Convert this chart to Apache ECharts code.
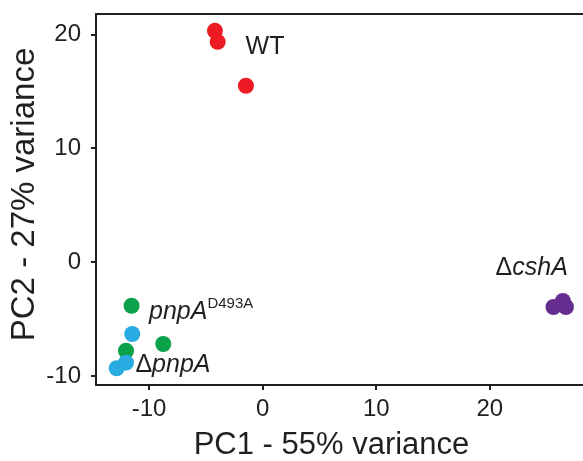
<!DOCTYPE html>
<html><head><meta charset="utf-8">
<script src="https://cdn.jsdelivr.net/npm/echarts@6/dist/echarts.min.js"></script>
<style>html,body{margin:0;padding:0;background:#fff}#c{width:583px;height:461px}</style>
</head><body><div id="c"></div>
<script>
// PCA coordinates [PC1, PC2]
var wtPoints = [[-4.2, 20.3], [-3.96, 19.34], [-1.47, 15.48]];
var pnpD493APoints = [[-11.54, -3.84], [-8.75, -7.2], [-12.03, -7.79]];
var dPnpAPoints = [[-11.48, -6.32], [-12.03, -8.84], [-12.85, -9.33]];
var dCshAPoints = [[25.6, -3.95], [26.7, -3.95], [26.43, -3.42]];
var xTicks = [-10, 0, 10, 20];
var yTicks = [-10, 0, 10, 20];
var xTitle = 'PC1 - 55% variance';
var yTitle = 'PC2 - 27% variance';
// group labels: [x, y, key]
var groupLabels = [[-1.5, 18.83, 'WT'], [-10.0, -4.35, 'pnpD'], [-11.2, -9.09, 'dpnp'], [20.5, -0.53, 'dcsh']];

var FONT = '"Liberation Sans", Arial, sans-serif';
var ink = '#231f20';
var chart = echarts.init(document.getElementById('c'), null, {renderer: 'canvas'});
function sc(name, data, color) {
  return {type: 'scatter', name: name, data: data, symbolSize: 16,
    itemStyle: {color: color, opacity: 1}, emphasis: {disabled: true}, z: 3};
}
var labelText = {
  WT: '{n|WT}',
  pnpD: '{i|pnpA}{s|D493A}',
  dpnp: '{n|\u0394}{i|pnpA}',
  dcsh: '{n|\u0394}{i|cshA}'
};
chart.setOption({
  animation: false,
  grid: {left: 96, right: 0, top: 14, bottom: 76, outerBoundsMode: 'none', containLabel: false},
  xAxis: [{
    type: 'value', min: -14.67, max: 28.2, interval: 10,
    axisLine: {show: true, onZero: false, lineStyle: {color: ink, width: 2}},
    axisTick: {show: true, length: 5, lineStyle: {color: ink, width: 2}, customValues: xTicks},
    axisLabel: {color: ink, fontFamily: FONT, fontSize: 24, margin: 12, customValues: xTicks},
    splitLine: {show: false},
    name: xTitle, nameLocation: 'middle', nameGap: 45, nameMoveOverlap: false,
    nameTextStyle: {color: ink, fontFamily: FONT, fontSize: 31, padding: [0, 16, 0, 0]}
  }, {
    type: 'value', position: 'top', min: -14.67, max: 28.2,
    axisLine: {show: true, onZero: false, lineStyle: {color: ink, width: 2}},
    axisTick: {show: false}, axisLabel: {show: false}, splitLine: {show: false}
  }],
  yAxis: {
    type: 'value', min: -10.8, max: 21.78, interval: 10,
    axisLine: {show: true, onZero: false, lineStyle: {color: ink, width: 2}},
    axisTick: {show: true, length: 5, lineStyle: {color: ink, width: 2}, customValues: yTicks},
    axisLabel: {color: ink, fontFamily: FONT, fontSize: 24, margin: 15, customValues: yTicks},
    splitLine: {show: false},
    name: yTitle, nameLocation: 'middle', nameGap: 55, nameMoveOverlap: false,
    nameTextStyle: {color: ink, fontFamily: FONT, fontSize: 33, padding: [0, 0, 0, 10]}
  },
  series: [
    sc('WT', wtPoints, '#ed1c24'),
    sc('pnpA D493A', pnpD493APoints, '#0ca14b'),
    sc('ΔpnpA', dPnpAPoints, '#29abe2'),
    sc('ΔcshA', dCshAPoints, '#662d91'),
    {type: 'scatter', data: groupLabels, symbolSize: 0, silent: true, z: 4,
      itemStyle: {color: ink, opacity: 1},
      label: {show: true, position: 'right', distance: 0, color: ink, opacity: 1, textBorderWidth: 0,
        formatter: function (p) { return labelText[p.data[2]]; },
        rich: {
          n: {fontFamily: FONT, fontSize: 25, color: ink, lineHeight: 30, textBorderWidth: 0},
          i: {fontFamily: FONT, fontSize: 25, fontStyle: 'italic', color: ink, lineHeight: 30, textBorderWidth: 0},
          s: {fontFamily: FONT, fontSize: 15, color: ink, lineHeight: 30, verticalAlign: 'top', textBorderWidth: 0}
        }}}
  ]
});
</script></body></html>
